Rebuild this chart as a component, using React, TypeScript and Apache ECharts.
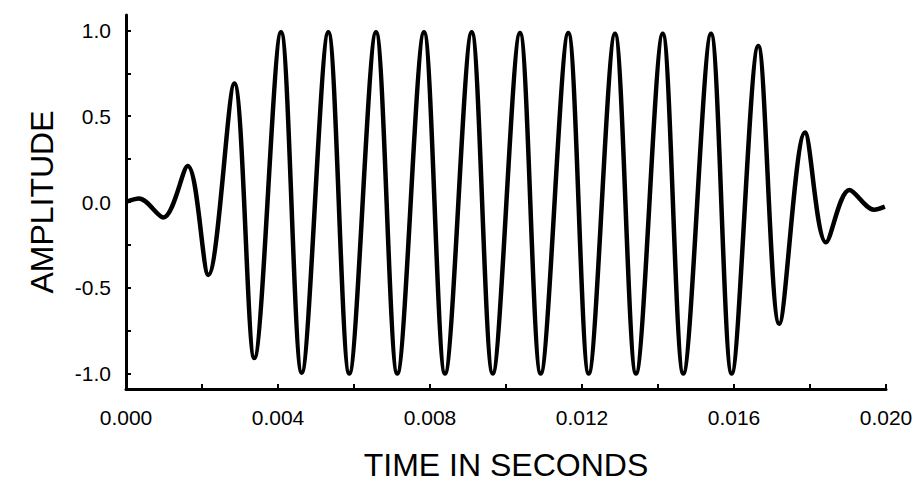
import React, { useEffect, useRef } from "react";
import * as echarts from "echarts";

// Time (s) of each turning point of the waveform
const times = [
  0.0, 0.000342, 0.000982, 0.001624, 0.002166, 0.00285, 0.003376, 0.004079,
  0.004624, 0.005324, 0.005876, 0.006579, 0.007139, 0.007842, 0.008395,
  0.009097, 0.00965, 0.010368, 0.010913, 0.011639, 0.012176, 0.012868,
  0.013421, 0.014124, 0.014666, 0.015395, 0.015939, 0.016639, 0.017192,
  0.017868, 0.018421, 0.019039, 0.019684, 0.01997,
];
// Amplitude at each of those points
const amplitudes = [
  0.0, 0.02, -0.09, 0.21, -0.425, 0.69, -0.91, 0.99, -0.995, 0.99, -1.0, 0.99,
  -1.0, 0.99, -1.0, 0.99, -1.0, 0.985, -1.0, 0.985, -1.0, 0.98, -1.0, 0.98,
  -1.0, 0.98, -1.0, 0.91, -0.71, 0.405, -0.235, 0.07, -0.045, -0.027,
];

const xLabelValues = [0, 0.004, 0.008, 0.012, 0.016, 0.02];
const xTickValues = [0, 0.002, 0.004, 0.006, 0.008, 0.01, 0.012, 0.014, 0.016, 0.018, 0.02];
const yLabelValues = [-1, -0.5, 0, 0.5, 1];
const yTickValues = [-1, -0.75, -0.5, -0.25, 0, 0.25, 0.5, 0.75, 1];

const xTitle = "TIME IN SECONDS";
const yTitle = "AMPLITUDE";

const FONT = "'Liberation Sans', Arial, Helvetica, sans-serif";

export default function App() {
  const ref = useRef<HTMLDivElement>(null);

  useEffect(() => {
    if (!ref.current) return;
    const chart = echarts.init(ref.current, null, { renderer: "svg" });
    const data = times.map((t, i) => [t, amplitudes[i]]);
    chart.setOption({
      animation: false,
      backgroundColor: "#ffffff",
      grid: {
        left: 126,
        right: 30,
        top: 15,
        bottom: 95,
        containLabel: false,
        outerBoundsMode: "none",
      },
      xAxis: {
        type: "value",
        min: 0,
        max: 0.02,
        name: xTitle,
        nameLocation: "middle",
        nameGap: 60,
        nameTextStyle: { fontFamily: FONT, fontSize: 32, color: "#000" },
        axisLine: { show: true, onZero: false, lineStyle: { color: "#000", width: 3 } },
        axisTick: {
          show: true,
          inside: true,
          length: 5,
          customValues: xTickValues,
          lineStyle: { color: "#000", width: 2 },
        },
        axisLabel: {
          customValues: xLabelValues,
          formatter: (v: number) => v.toFixed(3),
          fontFamily: FONT,
          fontSize: 21,
          color: "#000",
          margin: 18,
        },
        splitLine: { show: false },
      },
      yAxis: {
        type: "value",
        min: -1.09,
        max: 1.09,
        name: yTitle,
        nameLocation: "middle",
        nameGap: 68,
        nameRotate: 90,
        nameTextStyle: { fontFamily: FONT, fontSize: 32, color: "#000" },
        axisLine: { show: true, onZero: false, lineStyle: { color: "#000", width: 3 } },
        axisTick: {
          show: true,
          inside: true,
          length: 5,
          customValues: yTickValues,
          lineStyle: { color: "#000", width: 2 },
        },
        axisLabel: {
          customValues: yLabelValues,
          formatter: (v: number) => v.toFixed(1),
          fontFamily: FONT,
          fontSize: 21,
          color: "#000",
          margin: 15,
          padding: [8, 0, 0, 0],
        },
        splitLine: { show: false },
      },
      series: [
        {
          type: "line",
          data,
          smooth: 0.33,
          symbol: "none",
          showSymbol: false,
          clip: false,
          lineStyle: { color: "#000", width: 4.5 },
        },
      ],
    });
    return () => chart.dispose();
  }, []);

  return (
    <div
      ref={ref}
      style={{ position: "fixed", left: 0, top: 0, width: 916, height: 484, background: "#fff" }}
    />
  );
}
